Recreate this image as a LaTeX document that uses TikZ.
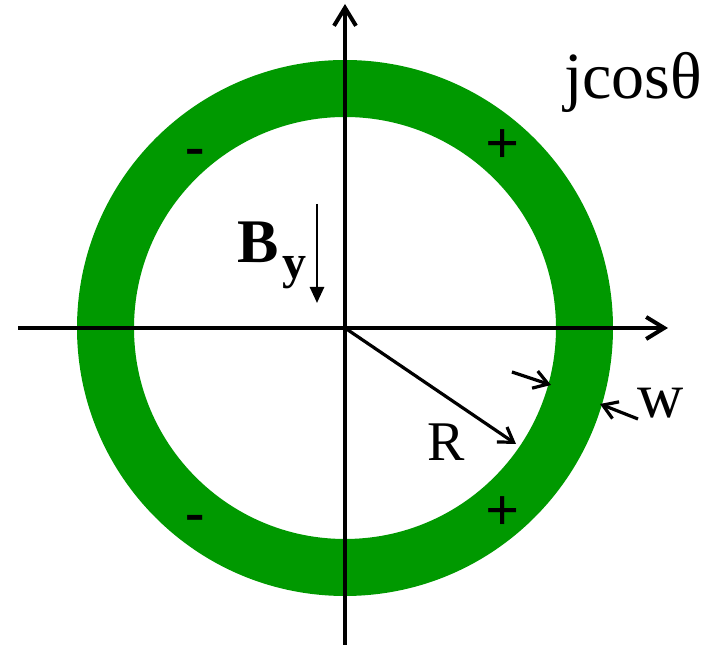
\documentclass[tikz,border=0pt]{standalone}
\usepackage{fontspec}
\setmainfont{Liberation Serif}
\usetikzlibrary{arrows.meta}
\definecolor{ringgreen}{RGB}{0,153,0}
\begin{document}
\begin{tikzpicture}[x=0.5pt,y=-0.5pt,
  axisline/.style={line width=2pt,-{Straight Barb[length=9pt,width=11pt,line width=2pt]}},
  dimarrow/.style={line width=1.6pt,-{Straight Barb[length=7pt,width=9pt,line width=1.6pt]}},
  lbl/.style={inner sep=0pt,outer sep=0pt}]
\useasboundingbox (0,0) rectangle (725,656);
\coordinate (O) at (345,328);
\fill[ringgreen,even odd rule] (O) circle (134pt) (O) circle (105.5pt);
% axes
\coordinate (xl) at (18,328);
\coordinate (xr) at (668,328);
\coordinate (yb) at (345,645);
\coordinate (yt) at (345,4);
\draw[axisline] (xl) -- (xr);
\draw[axisline] (yb) -- (yt);
% radius
\coordinate (Rtip) at (516,444);
\draw[dimarrow] (O) -- (Rtip);
\node[lbl] (Rlab) at (446,442) {\fontsize{28}{30}\selectfont R};
% width arrows
\coordinate (w1s) at (512,372);
\coordinate (w1e) at (551,385);
\draw[dimarrow] (w1s) -- (w1e);
\coordinate (w2s) at (638,419);
\coordinate (w2e) at (600,404);
\draw[dimarrow] (w2s) -- (w2e);
\node[lbl] (wlab) at (661,403) {\fontsize{32}{36}\selectfont w};
% B_y
\node[lbl] (Blab) at (258,242) {\fontsize{31}{36}\selectfont\bfseries B};
\node[lbl] (ylab) at (294,273) {\fontsize{24}{28}\selectfont\bfseries y};
\coordinate (Bs) at (317,204);
\coordinate (Be) at (317,303);
\draw[line width=1.3pt,-{Triangle[length=8pt,width=7pt]}] (Bs) -- (Be);
% title
\node[lbl] (jcos) at (633,82) {\fontsize{33}{38}\selectfont jcosθ};
% signs
\node[lbl] (p1) at (503,147) {\fontsize{30}{32}\selectfont\bfseries +};
\node[lbl] (p2) at (503,514) {\fontsize{30}{32}\selectfont\bfseries +};
\node[lbl] (m1) at (195,157) {\fontsize{29}{30}\selectfont\bfseries -};
\node[lbl] (m2) at (195,523) {\fontsize{29}{30}\selectfont\bfseries -};
\end{tikzpicture}
\end{document}
